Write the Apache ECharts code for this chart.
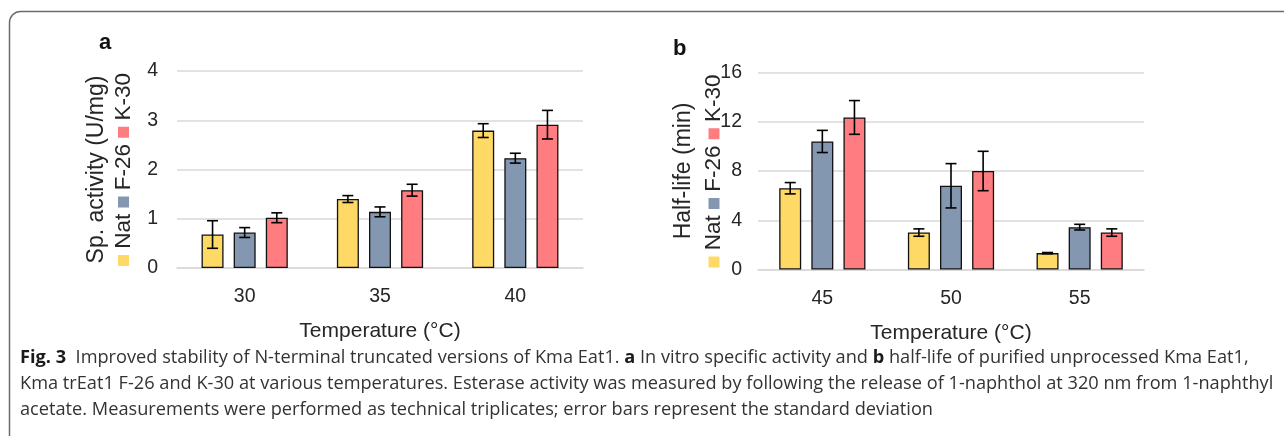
<!DOCTYPE html>
<html>
<head>
<meta charset="utf-8">
<script src="https://cdn.jsdelivr.net/npm/echarts@6/dist/echarts.min.js"></script>
<style>
html,body{margin:0;padding:0;background:#fff;}
#chart{width:1284px;height:436px;}
</style>
</head>
<body>
<div id="chart"></div>
<script>
// ---- data ----
const seriesNames = ['Nat', 'F-26', 'K-30'];
const categoriesA = ['30', '35', '40'];
const categoriesB = ['45', '50', '55'];
// panel a: specific activity (U/mg)
const natA = [0.68, 1.40, 2.79];
const natSdA = [0.28, 0.07, 0.14];
const f26A = [0.72, 1.14, 2.23];
const f26SdA = [0.10, 0.10, 0.10];
const k30A = [1.02, 1.58, 2.91];
const k30SdA = [0.10, 0.12, 0.29];
// panel b: half-life (min)
const natB = [6.6, 3.0, 1.33];
const natSdB = [0.46, 0.30, 0.05];
const f26B = [10.4, 6.8, 3.44];
const f26SdB = [0.90, 1.80, 0.23];
const k30B = [12.35, 8.0, 3.0];
const k30SdB = [1.37, 1.60, 0.30];
const yTicksA = [0, 1, 2, 3, 4];
const yTicksB = [0, 4, 8, 12, 16];
const xTitle = 'Temperature (°C)';
const yTitleA = 'Sp. activity (U/mg)';
const yTitleB = 'Half-life (min)';
const captionLines = [
  '{b|Fig. 3}  Improved stability of N-terminal truncated versions of Kma Eat1. {b|a} In vitro specific activity and {b|b} half-life of purified unprocessed Kma Eat1,',
  'Kma trEat1 F-26 and K-30 at various temperatures. Esterase activity was measured by following the release of 1-naphthol at 320 nm from 1-naphthyl',
  'acetate. Measurements were performed as technical triplicates; error bars represent the standard deviation'
];

// ---- style ----
const colors = ['#FFD966', '#8497B0', '#FF7C80'];
const textColor = '#262626';
const gridColor = '#D9D9D9';
const barW = 22;
const barGapFrac = 0.46;
const FONT = 'Liberation Sans, Arial, sans-serif';
const CAPFONT = 'Open Sans';
const CAPSIZE = 18.2;

const chart = echarts.init(document.getElementById('chart'), null, {renderer: 'canvas'});

function errRender(idx) {
  return function (params, api) {
    const c = api.value(0), v = api.value(1), sd = api.value(2);
    const base = api.coord([c, v]);
    const x = base[0] + (idx - 1) * barW * (1 + barGapFrac);
    const yt = api.coord([c, v + sd])[1];
    const yb = api.coord([c, v - sd])[1];
    const h = 5.5;
    const st = {stroke: '#000', lineWidth: 1.6};
    return {type: 'group', children: [
      {type: 'line', shape: {x1: x, y1: yt, x2: x, y2: yb}, style: st},
      {type: 'line', shape: {x1: x - h, y1: yt, x2: x + h, y2: yt}, style: st},
      {type: 'line', shape: {x1: x - h, y1: yb, x2: x + h, y2: yb}, style: st}
    ]};
  };
}

function yName(title) {
  const sq = (i) => '{s' + i + '|}';
  return '{t|' + title + '}\n' +
    sq(0) + '{l| ' + seriesNames[0] + ' }' +
    sq(1) + '{l| ' + seriesNames[1] + ' }' +
    sq(2) + '{l| ' + seriesNames[2] + '}';
}
function richName(lh) {
  return {
    t: {fontSize: 23, fontFamily: FONT, color: textColor, lineHeight: lh},
    l: {fontSize: 22.5, fontFamily: FONT, color: textColor, lineHeight: lh},
    s0: {width: 11, height: 11, backgroundColor: colors[0]},
    s1: {width: 11, height: 11, backgroundColor: colors[1]},
    s2: {width: 11, height: 11, backgroundColor: colors[2]}
  };
}

const seriesA = [natA, f26A, k30A];
const sdA = [natSdA, f26SdA, k30SdA];
const seriesB = [natB, f26B, k30B];
const sdB = [natSdB, f26SdB, k30SdB];

const series = [];
[[seriesA, sdA, 0], [seriesB, sdB, 1]].forEach(([vals, sds, gi]) => {
  vals.forEach((arr, i) => {
    series.push({
      name: seriesNames[i], type: 'bar', xAxisIndex: gi, yAxisIndex: gi,
      data: arr, barWidth: barW, barGap: (barGapFrac * 100) + '%',
      itemStyle: {color: colors[i], borderColor: '#111', borderWidth: 1.3},
      z: 2, silent: true
    });
  });
  vals.forEach((arr, i) => {
    series.push({
      type: 'custom', xAxisIndex: gi, yAxisIndex: gi, z: 5, silent: true,
      renderItem: errRender(i),
      data: arr.map((v, k) => [k, v, sds[i][k]])
    });
  });
});

function xAxis(cats, gi) {
  return {
    type: 'category', gridIndex: gi, data: cats,
    axisLine: {show: true, lineStyle: {color: gridColor, width: 1.6}},
    axisTick: {show: false},
    axisLabel: {fontSize: 19.5, fontFamily: FONT, color: textColor, margin: 19},
    name: xTitle, nameLocation: 'middle', nameGap: 53, nameMoveOverlap: false,
    nameTextStyle: {fontSize: 21, fontFamily: FONT, color: textColor}
  };
}
function yAxis(ticks, title, gi, margin, gap, lh) {
  return {
    type: 'value', gridIndex: gi, min: ticks[0], max: ticks[ticks.length - 1],
    interval: ticks[1] - ticks[0],
    axisLine: {show: false}, axisTick: {show: false},
    splitLine: {show: true, lineStyle: {color: gridColor, width: 1.6}},
    axisLabel: {fontSize: 19.5, fontFamily: FONT, color: textColor, margin: margin},
    name: yName(title), nameLocation: 'middle', nameRotate: 90, nameGap: gap,
    nameMoveOverlap: false,
    nameTextStyle: {rich: richName(lh), align: 'center'}
  };
}

const option = {
  backgroundColor: '#fff',
  animation: false,
  textStyle: {fontFamily: FONT},
  title: [
    {text: 'a', left: 94, top: 27, textStyle: {fontSize: 22, fontWeight: 'bold', color: '#111', fontFamily: FONT}},
    {text: 'b', left: 668, top: 33, textStyle: {fontSize: 22, fontWeight: 'bold', color: '#111', fontFamily: FONT}}
  ],
  grid: [
    {left: 177, top: 71, width: 406, height: 197},
    {left: 758, top: 72.5, width: 386, height: 197}
  ],
  xAxis: [xAxis(categoriesA, 0), xAxis(categoriesB, 1)],
  yAxis: [yAxis(yTicksA, yTitleA, 0, 19, 40, 27), yAxis(yTicksB, yTitleB, 1, 16, 29, 30)],
  series: series,
  graphic: [
    {type: 'rect', silent: true, z: 0,
     shape: {x: 9.5, y: 11.5, width: 1500, height: 700, r: 11},
     style: {fill: 'none', stroke: '#6b6b6b', lineWidth: 1.5}},
    {type: 'text', left: 20, top: 349, silent: true,
     style: {
       text: captionLines[0],
       font: CAPSIZE + 'px "' + CAPFONT + '"', fill: '#333',
       rich: {b: {fontWeight: 'bold', fontSize: CAPSIZE, fontFamily: CAPFONT, fill: '#1a1a1a'}}
     }},
    {type: 'text', left: 20, top: 375, silent: true,
     style: {text: captionLines[1], font: CAPSIZE + 'px "' + CAPFONT + '"', fill: '#333'}},
    {type: 'text', left: 20, top: 401, silent: true,
     style: {text: captionLines[2], font: CAPSIZE + 'px "' + CAPFONT + '"', fill: '#333'}}
  ]
};
chart.setOption(option);
</script>
</body>
</html>
